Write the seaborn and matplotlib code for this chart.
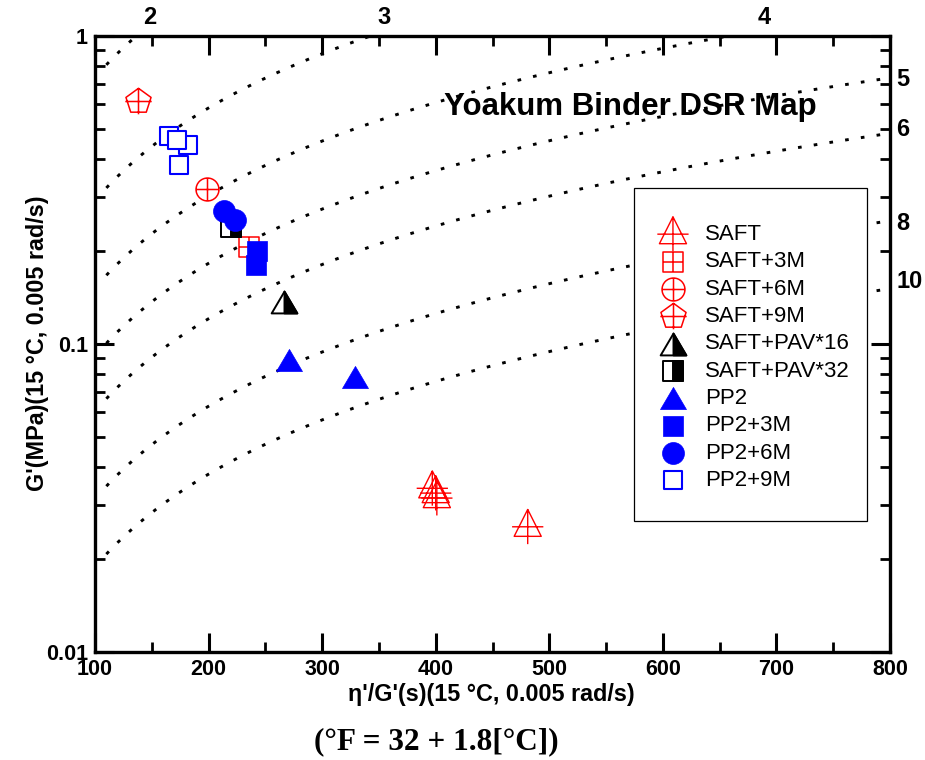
import numpy as np
import pandas as pd
import matplotlib
matplotlib.use("Agg")
import matplotlib.pyplot as plt
from matplotlib.path import Path
from matplotlib.patches import Rectangle
from matplotlib.ticker import MultipleLocator, NullFormatter, FixedLocator
import seaborn as sns

# ---------------- data ----------------
saft_x = [397, 400, 401, 481]
saft_y = [0.0340, 0.0328, 0.0316, 0.0255]
saft3m_x = [236]
saft3m_y = [0.207]
saft6m_x = [199]
saft6m_y = [0.318]
saft9m_x = [138]
saft9m_y = [0.616]
pav16_x = [266]
pav16_y = [0.137]
pav32_x = [220]
pav32_y = [0.240]
pp2_x = [271, 329]
pp2_y = [0.089, 0.078]
pp2_3m_x = [243, 242]
pp2_3m_y = [0.200, 0.180]
pp2_6m_x = [214, 223]
pp2_6m_y = [0.270, 0.253]
pp2_9m_x = [182.3, 165.5, 172, 173.7]
pp2_9m_y = [0.443, 0.473, 0.458, 0.380]

# ductility contours: G'/(eta'/G') = constant (MPa/s)
ductility_labels = ["2", "3", "4", "5", "6", "8", "10"]
dsr_function = [7.33e-3, 2.92e-3, 1.52e-3, 9.14e-4, 6.04e-4, 3.14e-4, 1.89e-4]
x_ticks = [100, 200, 300, 400, 500, 600, 700, 800]
y_ticks = [0.01, 0.1, 1]
y_ticklabels = ["0.01", "0.1", "1"]

# ---------------- style ----------------
sns.set_style("ticks")
plt.rcParams["font.family"] = ["Liberation Sans", "DejaVu Sans"]
plt.rcParams["text.color"] = "black"
plt.rcParams["axes.labelcolor"] = "black"
plt.rcParams["xtick.color"] = "black"
plt.rcParams["ytick.color"] = "black"
plt.rcParams["axes.edgecolor"] = "black"

W, H = 925, 760
fig = plt.figure(figsize=(W / 100, H / 100), dpi=100)
ax = fig.add_axes([95 / W, 1 - 652 / H, (890 - 95) / W, (652 - 36) / H])

RED = "#ff0000"
BLUE = "#0000ff"
M, L, C = Path.MOVETO, Path.LINETO, Path.CLOSEPOLY

# custom marker paths
tri_cross = Path.make_compound_path(
    Path([(0, 1.0), (-0.78, -0.55), (0.78, -0.55), (0, 1.0)], [M, L, L, C]),
    Path([(0, 1.0), (0, -1.0)], [M, L]),
    Path([(-0.9, 0.0), (0.9, 0.0)], [M, L]),
)
sq_cross = Path.make_compound_path(
    Path([(-1, -1), (1, -1), (1, 1), (-1, 1), (-1, -1)], [M, L, L, L, C]),
    Path([(0, -1), (0, 1)], [M, L]),
    Path([(-1, 0), (1, 0)], [M, L]),
)
circ_cross = Path.make_compound_path(
    Path.unit_circle(),
    Path([(0, -1), (0, 1)], [M, L]),
    Path([(-1, 0), (1, 0)], [M, L]),
)
pent = Path.unit_regular_polygon(5)
pent_cross = Path.make_compound_path(
    Path(pent.vertices, [M, L, L, L, L, C]),
    Path([(0, 1), (0, -0.97)], [M, L]),
    Path([(-1, 0.0), (1, 0.0)], [M, L]),
)
tri_full = Path([(0, 0.85), (-1, -0.85), (1, -0.85), (0, 0.85)], [M, L, L, C])
tri_right = Path([(0, 0.85), (1, -0.85), (0, -0.85), (0, 0.85)], [M, L, L, C])
sq_full = Path([(-1, -1), (1, -1), (1, 1), (-1, 1), (-1, -1)], [M, L, L, L, C])
sq_right = Path([(0, -1), (1, -1), (1, 1), (0, 1), (0, -1)], [M, L, L, L, C])

# ---------------- ductility contours ----------------
rows = []
xg = np.linspace(110, 800, 400)
for lab, k in zip(ductility_labels, dsr_function):
    for xv in xg:
        rows.append({"curve": lab, "x": xv, "g": k * xv})
curves = pd.DataFrame(rows)
sns.lineplot(data=curves, x="x", y="g", units="curve", estimator=None, sort=False,
             color="black", lw=2.1, linestyle=(0, (1.25, 4.2)), legend=False,
             ax=ax, zorder=1)


def scat(x, y, marker, s, face, edge, lw, z=3):
    sns.scatterplot(x=x, y=y, marker=marker, s=s, color=edge, facecolor=face,
                    edgecolor=edge, linewidth=lw, ax=ax, zorder=z, legend=False)
    return ax.collections[-1]


h_saft = scat(saft_x, saft_y, tri_cross, 25 ** 2, "none", RED, 1.0)
h_s3 = scat(saft3m_x, saft3m_y, sq_cross, 13.9 ** 2, "white", RED, 1.1)
h_s6 = scat(saft6m_x, saft6m_y, circ_cross, 16.5 ** 2, "white", RED, 1.1)
h_s9 = scat(saft9m_x, saft9m_y, pent_cross, 19 ** 2, "white", RED, 1.1)
h_p16a = scat(pav16_x, pav16_y, tri_full, 18.5 ** 2, "white", "black", 1.4)
h_p16b = scat(pav16_x, pav16_y, tri_right, 18.5 ** 2, "black", "black", 1.4)
h_p32a = scat(pav32_x, pav32_y, sq_full, 14.4 ** 2, "white", "black", 1.4)
h_p32b = scat(pav32_x, pav32_y, sq_right, 14.4 ** 2, "black", "black", 1.4)
h_pp2 = scat(pp2_x, pp2_y, tri_full, 18.7 ** 2, BLUE, BLUE, 0.5)
h_pp3 = scat(pp2_3m_x, pp2_3m_y, "s", 14.6 ** 2, BLUE, BLUE, 0.5)
h_pp6 = scat(pp2_6m_x, pp2_6m_y, "o", 15.8 ** 2, BLUE, BLUE, 0.5)
h_pp9 = scat(pp2_9m_x, pp2_9m_y, "s", 13.4 ** 2, "white", BLUE, 1.5)

# ---------------- axes ----------------
ax.set_xlim(100, 800)
ax.set_yscale("log")
ax.set_ylim(0.01, 1)
ax.set_xticks(x_ticks)
ax.set_xticklabels([str(v) for v in x_ticks])
ax.xaxis.set_minor_locator(MultipleLocator(50))
ax.set_yticks(y_ticks)
ax.set_yticklabels(y_ticklabels)
ax.yaxis.set_minor_locator(FixedLocator(
    [m * d for d in (0.01, 0.1) for m in range(2, 10)]))
ax.yaxis.set_minor_formatter(NullFormatter())
ax.set_xlabel("")
ax.set_ylabel("")
ax.tick_params(which="both", direction="in", top=True, right=True,
               labeltop=False, labelright=False, color="black",
               labelcolor="black")
ax.tick_params(which="major", length=13.5, width=2.2, pad=5,
               labelsize=15.5)
ax.tick_params(which="minor", length=7.5, width=2.0)
for t in ax.get_xticklabels() + ax.get_yticklabels():
    t.set_fontweight("bold")
for sp in ax.spines.values():
    sp.set_linewidth(2.4)
    sp.set_color("black")
    sp.set_visible(True)

# ---------------- legend ----------------
rect = Rectangle((634 / W, 1 - 520.7 / H), (866.7 - 634) / W, (520.7 - 188.3) / H,
                 transform=fig.transFigure, facecolor="white", edgecolor="black",
                 lw=0.9, zorder=4, clip_on=False)
ax.add_patch(rect)
leg_handles = [h_saft, h_s3, h_s6, h_s9, (h_p16a, h_p16b), (h_p32a, h_p32b),
               h_pp2, h_pp3, h_pp6, h_pp9]
leg_labels = ["SAFT", "SAFT+3M", "SAFT+6M", "SAFT+9M", "SAFT+PAV*16",
              "SAFT+PAV*32", "PP2", "PP2+3M", "PP2+6M", "PP2+9M"]
leg = ax.legend(leg_handles, leg_labels, loc="upper left",
                bbox_to_anchor=(657.4 / W, 1 - 224 / H),
                bbox_transform=fig.transFigure, frameon=False, borderpad=0,
                borderaxespad=0, handlelength=1.4, handletextpad=0.74,
                labelspacing=0.285, fontsize=16, scatterpoints=1)
leg.set_zorder(5)
for t in leg.get_texts():
    t.set_color("black")

# ---------------- texts ----------------
fig.text(630 / W, 1 - 115 / H, "Yoakum Binder DSR Map", ha="center", va="baseline",
         fontsize=22.5, fontweight="bold", color="black")
for lab, px in zip(["2", "3", "4"], [150, 384, 764]):
    fig.text(px / W, 1 - 18 / H, lab, ha="center", va="center",
             fontsize=17, fontweight="bold", color="black")
for lab, py in zip(["5", "6", "8", "10"], [80, 130, 223, 282]):
    fig.text(896 / W, 1 - py / H, lab, ha="left", va="center",
             fontsize=17, fontweight="bold", color="black")
fig.text(38 / W, 1 - 343 / H, "G'(MPa)(15 \u00b0C, 0.005 rad/s)", rotation=90,
         ha="center", va="center", fontsize=16.8, fontweight="bold", color="black")
fig.text(491 / W, 1 - 695 / H, "\u03b7'/G'(s)(15 \u00b0C, 0.005 rad/s)",
         ha="center", va="center", fontsize=16.8, fontweight="bold", color="black")
fig.text(436 / W, 1 - 742 / H, "(\u00b0F = 32 + 1.8[\u00b0C])", ha="center",
         va="center", fontsize=22.5, fontweight="bold", color="black",
         family=["Liberation Serif", "DejaVu Serif"])

fig.savefig("out.png", dpi=100)
